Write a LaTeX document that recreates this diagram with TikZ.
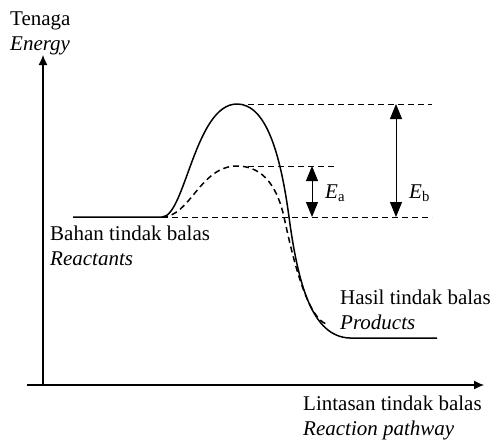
\documentclass[tikz,border=0pt]{standalone}
\usepackage{fontspec}
\setmainfont{Liberation Serif}
\usepackage{tikz}
\usetikzlibrary{arrows.meta,positioning,calc}

\tikzset{
  axisline/.style={line width=1.2pt, -{Latex[length=10pt,width=9pt]}},
  energycurve/.style={line width=1.5pt},
  catcurve/.style={line width=1.5pt, dash pattern=on 6pt off 4pt},
  levelline/.style={line width=0.8pt, dash pattern=on 6pt off 4pt},
  gaparrow/.style={line width=1pt, {Triangle[length=15pt,width=12pt]}-{Triangle[length=15pt,width=12pt]}},
  lbl/.style={font=\fontsize{21}{24.5}\selectfont, inner sep=0pt, align=left}
}

\begin{document}
\begin{tikzpicture}[x=1pt,y=-1pt]
  \useasboundingbox (0,0) rectangle (495,440);

  % axes
  \coordinate (origin) at (43,385);
  \coordinate (ytop) at (43,55);
  \coordinate (xleft) at (27,385);
  \coordinate (xright) at (484,385);
  \draw[axisline] (origin) -- (ytop);
  \draw[axisline] (xleft) -- (xright);

  % energy levels
  \coordinate (react) at (73,217);
  \coordinate (rise) at (162,217);
  \coordinate (peak) at (237,104);
  \coordinate (cross) at (289,217);
  \coordinate (prodstart) at (350,338);
  \coordinate (prod) at (437,338);
  \coordinate (catpeak) at (237,166);

  % uncatalysed pathway
  \draw[energycurve] (react) -- (rise)
    .. controls (185,217) and (195,104) .. (peak)
    .. controls (265,104) and (280,150) .. (cross)
    .. controls (298,284) and (312,337) .. (prodstart) -- (prod);

  % catalysed pathway
  \draw[catcurve] (rise)
    .. controls (190,217) and (200,166) .. (catpeak)
    .. controls (265,166) and (278,190) .. (284,217)
    .. controls (291,249) and (305,315) .. (326,324);

  % dashed reference lines
  \draw[levelline] (248,104) -- (432,104);
  \draw[levelline] (248,166) -- (337,166);
  \draw[levelline] (rise) -- (432,217);

  % activation energies
  \coordinate (eatop) at (312,166);
  \coordinate (eabot) at (312,217);
  \coordinate (ebtop) at (396,104);
  \coordinate (ebbot) at (396,217);
  \draw[gaparrow] (eatop) -- (eabot);
  \draw[gaparrow] (ebtop) -- (ebbot);
  \node[lbl, anchor=base west] (ea) at (325,198) {\textit{E}\textsubscript{a}};
  \node[lbl, anchor=base west] (eb) at (409,198) {\textit{E}\textsubscript{b}};

  % labels (base = last line)
  \node[lbl, anchor=base west] (energy) at (10,50) {Tenaga\\\textit{Energy}};
  \node[lbl, anchor=base west] (reactants) at (50,265) {Bahan tindak balas\\\textit{Reactants}};
  \node[lbl, anchor=base west] (products) at (340,329) {Hasil tindak balas\\\textit{Products}};
  \node[lbl, anchor=base west] (pathway) at (303,435) {Lintasan tindak balas\\\textit{Reaction pathway}};
\end{tikzpicture}
\end{document}
